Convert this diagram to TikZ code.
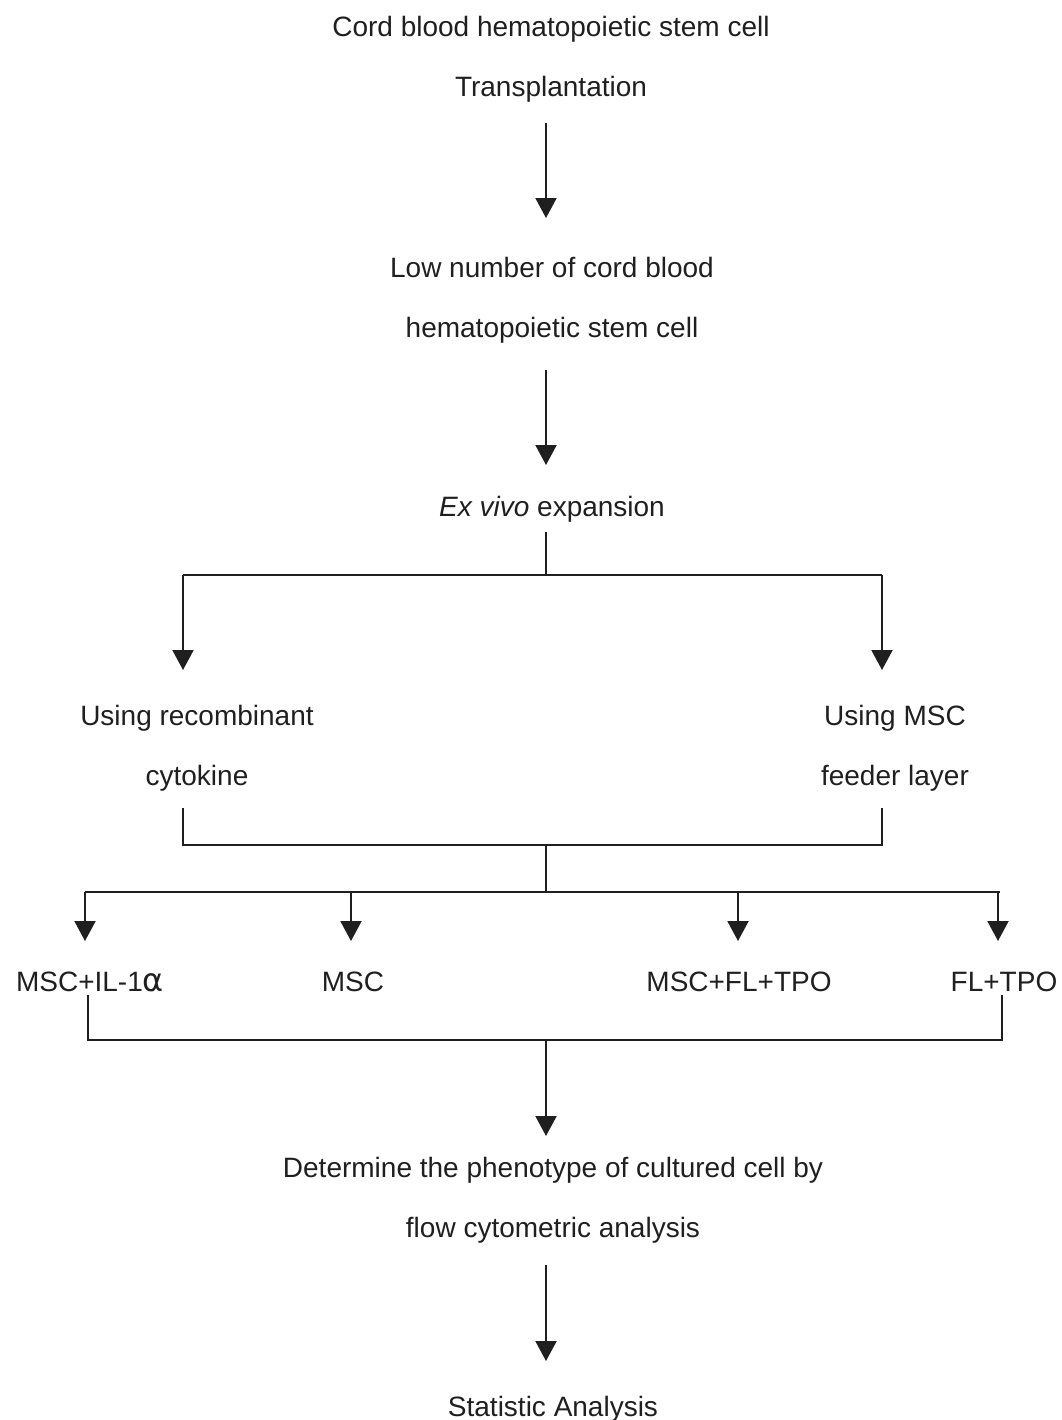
\documentclass[tikz,border=0pt]{standalone}
\usepackage{fontspec}
\setmainfont{Liberation Sans}
\newfontfamily\greekfont{DejaVu Sans}
\usetikzlibrary{arrows.meta}

\begin{document}
\begin{tikzpicture}[x=0.5pt,y=-0.5pt,line width=1pt,color=black!88,
  every node/.style={inner sep=0pt,anchor=north,align=center,font=\fontsize{14}{30}\selectfont},
  arr/.style={-{Triangle[width=10.5pt,length=10pt]}}]
  \useasboundingbox (0,0) rectangle (1061,1420);
  % steps
  \node (T) at (551,15)   {Cord blood hematopoietic stem cell\\Transplantation};
  \node (L) at (552,256)  {Low number of cord blood\\hematopoietic stem cell};
  \node (E) at (552,495)  {\textit{Ex vivo} expansion};
  \node (R) at (197,704)  {Using recombinant\\cytokine};
  \node (F) at (895,704)  {Using MSC\\feeder layer};
  \node (a) at (90,971)   {MSC+IL-1{\greekfont\fontsize{16}{16}\selectfont α}};
  \node (b) at (353,971)  {MSC};
  \node (c) at (739,971)  {MSC+FL+TPO};
  \node (d) at (1004,971) {FL+TPO};
  \node (P) at (553,1156) {Determine the phenotype of cultured cell by\\flow cytometric analysis};
  \node (S) at (553,1395) {Statistic Analysis};
  % junctions
  \coordinate (m)   at (546,0);
  \coordinate (j1)  at (546,575);
  \coordinate (j1l) at (183,575);
  \coordinate (j1r) at (882,575);
  \coordinate (j2)  at (546,845);
  \coordinate (j2l) at (183,845);
  \coordinate (j2r) at (882,845);
  \coordinate (j3)  at (546,892);
  \coordinate (j3l) at (85,892);
  \coordinate (j3r) at (1000,892);
  \coordinate (j4)  at (546,1040);
  \coordinate (j4l) at (88,1040);
  \coordinate (j4r) at (1002,1040);
  % connectors
  \draw[arr,shorten <=10pt,shorten >=19pt] (T.south -| m) -- (L.north -| m);
  \draw[arr,shorten <=13pt,shorten >=15pt] (L.south -| m) -- (E.north -| m);
  \draw[shorten <=4.5pt] (E.south -| m) -- (j1);
  \draw (j1l) -- (j1r);
  \draw[arr,shorten >=17pt] (j1l) -- (j1l |- R.north);
  \draw[arr,shorten >=17pt] (j1r) -- (j1r |- F.north);
  \draw[shorten <=8pt,shorten >=8pt] (R.south -| j2l) -- (j2l) -- (j2r) -- (F.south -| j2r);
  \draw (j2) -- (j3);
  \draw (j3l) -- (j3r);
  \foreach \n/\x in {a/85,b/351,c/738,d/998}{
    \coordinate (k\n) at (\x,892);
    \draw[arr,shorten >=15pt] (k\n) -- (k\n |- \n.north);
  }
  \draw[shorten <=1pt,shorten >=1pt] (a.south -| j4l) -- (j4l) -- (j4r) -- (d.south -| j4r);
  \draw[arr,shorten >=10pt] (j4) -- (j4 |- P.north);
  \draw[arr,shorten <=10.5pt,shorten >=17pt] (P.south -| m) -- (S.north -| m);
\end{tikzpicture}
\end{document}
